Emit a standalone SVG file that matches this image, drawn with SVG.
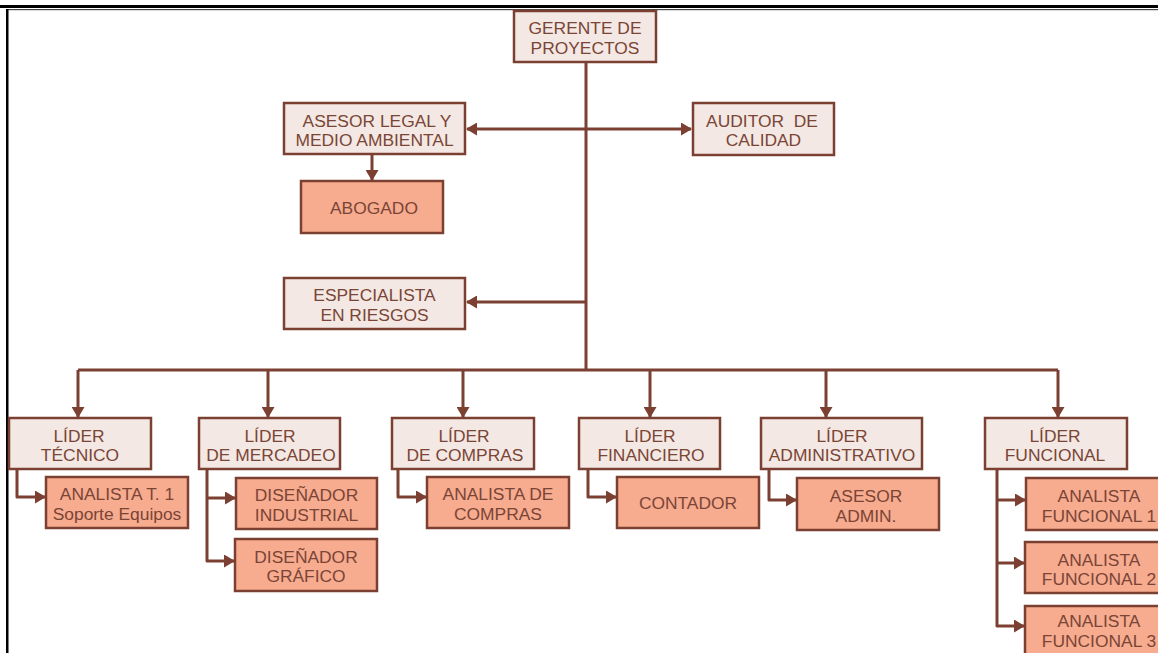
<svg xmlns="http://www.w3.org/2000/svg" width="1158" height="653" viewBox="0 0 1158 653">
  <style>
    .lead rect { fill: #f3e8e3; stroke: #7b4032; stroke-width: 2.5; }
    .staff rect { fill: #f7ab8f; stroke: #7b4032; stroke-width: 2.5; }
    text { font-family: "Liberation Sans", Arial, sans-serif; font-size: 17.4px; fill: #7a4536; text-anchor: middle; }
    .wire { fill: none; stroke: #7b4032; stroke-width: 3; stroke-linejoin: round; }
  </style>
  <defs>
    <marker id="head" markerUnits="userSpaceOnUse" markerWidth="11" markerHeight="13" refX="10" refY="6.5" orient="auto-start-reverse">
      <path d="M0,0 L11,6.5 L0,13 Z" fill="#7b4032"/>
    </marker>
  </defs>

  <rect width="1158" height="653" fill="#ffffff"/>

  <!-- page frame -->
  <g id="frame">
    <rect x="0" y="5" width="1158" height="3" fill="#000"/>
    <rect x="7" y="9" width="1151" height="1.2" fill="#444"/>
    <rect x="6" y="9" width="2.5" height="644" fill="#000"/>
  </g>

  <!-- connectors -->
  <g id="connectors">
    <path class="wire" d="M586,62 V370"/>
    <path class="wire" d="M467,129 H691" marker-start="url(#head)" marker-end="url(#head)"/>
    <path class="wire" d="M372,154 V180" marker-end="url(#head)"/>
    <path class="wire" d="M586,302 H467" marker-end="url(#head)"/>
    <path class="wire" d="M78,370 H1058"/>
    <path class="wire" d="M78,370 V417" marker-end="url(#head)"/>
    <path class="wire" d="M268,370 V417" marker-end="url(#head)"/>
    <path class="wire" d="M463,370 V417" marker-end="url(#head)"/>
    <path class="wire" d="M650,370 V417" marker-end="url(#head)"/>
    <path class="wire" d="M826,370 V417" marker-end="url(#head)"/>
    <path class="wire" d="M1058,370 V417" marker-end="url(#head)"/>
    <path class="wire" d="M17,469 V497 H45" marker-end="url(#head)"/>
    <path class="wire" d="M207,469 V561 H234" marker-end="url(#head)"/>
    <path class="wire" d="M207,498 H235" marker-end="url(#head)"/>
    <path class="wire" d="M398,469 V497 H426" marker-end="url(#head)"/>
    <path class="wire" d="M588,469 V497 H616" marker-end="url(#head)"/>
    <path class="wire" d="M769,469 V500 H796" marker-end="url(#head)"/>
    <path class="wire" d="M997,469 V626 H1024" marker-end="url(#head)"/>
    <path class="wire" d="M997,500 H1025" marker-end="url(#head)"/>
    <path class="wire" d="M997,563 H1024" marker-end="url(#head)"/>
  </g>

  <!-- top level -->
  <g id="gerente" class="lead">
    <rect x="514" y="11" width="142" height="51"/>
    <text x="585" y="34">GERENTE DE</text>
    <text x="585" y="54">PROYECTOS</text>
  </g>
  <g id="asesor-legal" class="lead">
    <rect x="284" y="103" width="181" height="51"/>
    <text x="377" y="127">ASESOR LEGAL Y</text>
    <text x="374.5" y="146">MEDIO AMBIENTAL</text>
  </g>
  <g id="auditor" class="lead">
    <rect x="693" y="103" width="141" height="52"/>
    <text x="762" y="127" xml:space="preserve">AUDITOR  DE</text>
    <text x="763.5" y="146">CALIDAD</text>
  </g>
  <g id="abogado" class="staff">
    <rect x="301" y="181" width="142" height="52"/>
    <text x="374" y="214">ABOGADO</text>
  </g>
  <g id="especialista" class="lead">
    <rect x="284" y="278" width="181" height="51"/>
    <text x="374.5" y="301">ESPECIALISTA</text>
    <text x="374.5" y="320.5">EN RIESGOS</text>
  </g>

  <!-- leaders -->
  <g id="lider-tecnico" class="lead">
    <rect x="9" y="418" width="142" height="51"/>
    <text x="79" y="441.5">LÍDER</text>
    <text x="80" y="461">TÉCNICO</text>
  </g>
  <g id="lider-mercadeo" class="lead">
    <rect x="199" y="418" width="141" height="51"/>
    <text x="270" y="441.5">LÍDER</text>
    <text x="271" y="461">DE MERCADEO</text>
  </g>
  <g id="lider-compras" class="lead">
    <rect x="392" y="418" width="142" height="51"/>
    <text x="464" y="441.5">LÍDER</text>
    <text x="465" y="461">DE COMPRAS</text>
  </g>
  <g id="lider-financiero" class="lead">
    <rect x="579" y="418" width="141" height="51"/>
    <text x="650" y="441.5">LÍDER</text>
    <text x="651" y="461">FINANCIERO</text>
  </g>
  <g id="lider-administrativo" class="lead">
    <rect x="761" y="418" width="161" height="51"/>
    <text x="842" y="441.5">LÍDER</text>
    <text x="842" y="461">ADMINISTRATIVO</text>
  </g>
  <g id="lider-funcional" class="lead">
    <rect x="985" y="418" width="142" height="51"/>
    <text x="1055" y="441.5">LÍDER</text>
    <text x="1055" y="461">FUNCIONAL</text>
  </g>

  <!-- staff -->
  <g id="analista-t1" class="staff">
    <rect x="46" y="477" width="142" height="51"/>
    <text x="117" y="500">ANALISTA T. 1</text>
    <text x="117" y="519.5">Soporte Equipos</text>
  </g>
  <g id="disenador-industrial" class="staff">
    <rect x="236" y="478" width="141" height="51"/>
    <text x="306.5" y="501">DISEÑADOR</text>
    <text x="306.5" y="520.5">INDUSTRIAL</text>
  </g>
  <g id="disenador-grafico" class="staff">
    <rect x="235" y="539" width="142" height="52"/>
    <text x="306" y="562.5">DISEÑADOR</text>
    <text x="306" y="582">GRÁFICO</text>
  </g>
  <g id="analista-compras" class="staff">
    <rect x="427" y="477" width="142" height="51"/>
    <text x="498" y="500">ANALISTA DE</text>
    <text x="498" y="519.5">COMPRAS</text>
  </g>
  <g id="contador" class="staff">
    <rect x="617" y="477" width="142" height="51"/>
    <text x="688" y="509">CONTADOR</text>
  </g>
  <g id="asesor-admin" class="staff">
    <rect x="797" y="478" width="142" height="52"/>
    <text x="866" y="502">ASESOR</text>
    <text x="866" y="521.5">ADMIN.</text>
  </g>
  <g id="analista-funcional-1" class="staff">
    <rect x="1026" y="478" width="142" height="52"/>
    <text x="1099" y="502">ANALISTA</text>
    <text x="1099" y="521.5">FUNCIONAL 1</text>
  </g>
  <g id="analista-funcional-2" class="staff">
    <rect x="1025" y="542" width="142" height="51"/>
    <text x="1099" y="565.5">ANALISTA</text>
    <text x="1099" y="585">FUNCIONAL 2</text>
  </g>
  <g id="analista-funcional-3" class="staff">
    <rect x="1025" y="606" width="142" height="51"/>
    <text x="1099" y="627">ANALISTA</text>
    <text x="1099" y="646.5">FUNCIONAL 3</text>
  </g>
</svg>
